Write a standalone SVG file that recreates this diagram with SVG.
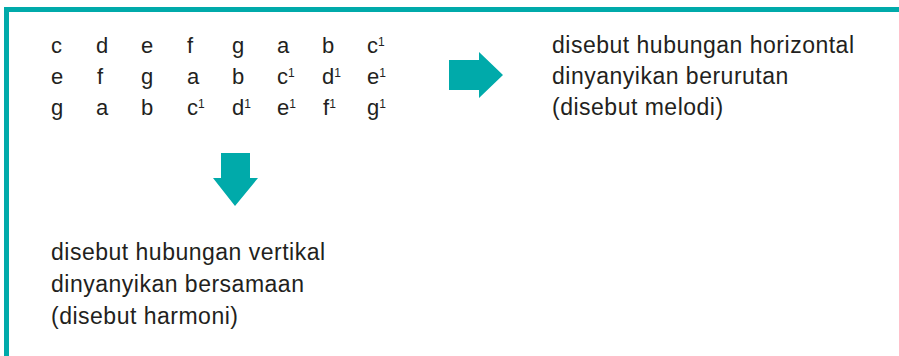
<svg xmlns="http://www.w3.org/2000/svg" width="899" height="356" viewBox="0 0 899 356">
<style>
.t{font-family:"Liberation Sans",Arial,sans-serif;font-size:23px;fill:#231f20;letter-spacing:0.5px}
.n{font-family:"Liberation Sans",Arial,sans-serif;font-size:22px;fill:#231f20}
.s{font-size:12px}
.teal{fill:#00aaaa}
</style>
<rect width="899" height="356" fill="#ffffff"/>
<g id="frame">
<rect class="teal" x="4" y="7" width="895" height="5"/>
<rect class="teal" x="4" y="7" width="5" height="349"/>
</g>
<g id="notes" class="n">
<text y="53"><tspan x="51">c</tspan><tspan x="96">d</tspan><tspan x="141">e</tspan><tspan x="187">f</tspan><tspan x="232">g</tspan><tspan x="277">a</tspan><tspan x="322">b</tspan><tspan x="367">c</tspan><tspan class="s" dy="-7">1</tspan></text>
<text y="84"><tspan x="51">e</tspan><tspan x="97">f</tspan><tspan x="141">g</tspan><tspan x="187">a</tspan><tspan x="232">b</tspan><tspan x="277">c</tspan><tspan class="s" dy="-7">1</tspan><tspan x="322" dy="7">d</tspan><tspan class="s" dy="-7">1</tspan><tspan x="367" dy="7">e</tspan><tspan class="s" dy="-7">1</tspan></text>
<text y="115"><tspan x="51">g</tspan><tspan x="96">a</tspan><tspan x="141">b</tspan><tspan x="187">c</tspan><tspan class="s" dy="-7">1</tspan><tspan x="232" dy="7">d</tspan><tspan class="s" dy="-7">1</tspan><tspan x="277" dy="7">e</tspan><tspan class="s" dy="-7">1</tspan><tspan x="323" dy="7">f</tspan><tspan class="s" dy="-7">1</tspan><tspan x="367" dy="7">g</tspan><tspan class="s" dy="-7">1</tspan></text>
</g>
<g id="connectors">
<polygon class="teal" points="449,60 479,60 479,52 503,75 479,98 479,90 449,90"/>
<polygon class="teal" points="221,153 250,153 250,178 258,178 235,206 213,178 221,178"/>
</g>
<g id="melodi">
<text class="t" x="552" y="53">disebut hubungan horizontal</text>
<text class="t" x="552" y="84">dinyanyikan berurutan</text>
<text class="t" x="552" y="115">(disebut melodi)</text>
</g>
<g id="harmoni">
<text class="t" x="51" y="260">disebut hubungan vertikal</text>
<text class="t" x="51" y="292">dinyanyikan bersamaan</text>
<text class="t" x="51" y="324">(disebut harmoni)</text>
</g>
</svg>
